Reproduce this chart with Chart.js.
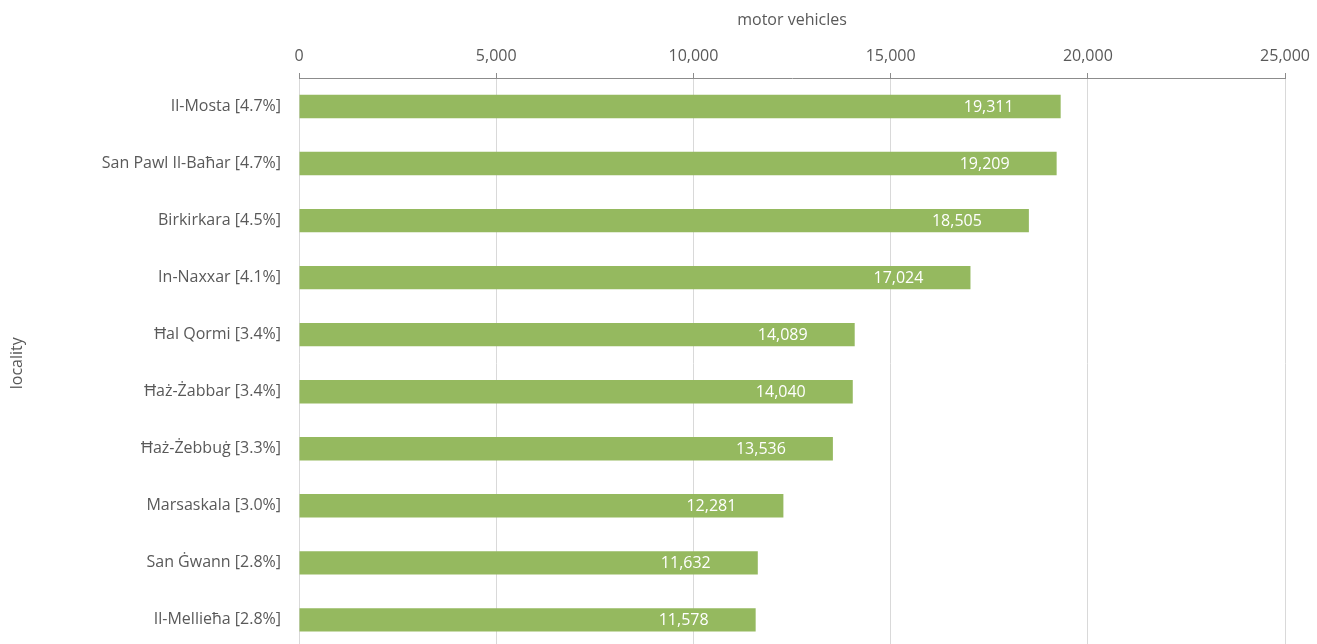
<!DOCTYPE html>
<html lang="en">
<head>
    <meta charset="UTF-8">
    <title>Motor vehicles by locality</title>
    <script src="https://cdn.jsdelivr.net/npm/chart.js"></script>
    <style>
        html, body { margin: 0; padding: 0; overflow: hidden; background: #fff; }
        canvas { display: block; }
    </style>
</head>
<body>
    <!-- taller than the window: the plot runs past the bottom edge like the original -->
    <canvas id="chart" width="1317" height="676"></canvas>

    <script>
        // data
        var localities = ['Il-Mosta [4.7%]', 'San Pawl Il-Baħar [4.7%]', 'Birkirkara [4.5%]', 'In-Naxxar [4.1%]',
            'Ħal Qormi [3.4%]', 'Ħaż-Żabbar [3.4%]', 'Ħaż-Żebbuġ [3.3%]', 'Marsaskala [3.0%]',
            'San Ġwann [2.8%]', 'Il-Mellieħa [2.8%]'];
        var vehicles = [19311, 19209, 18505, 17024, 14089, 14040, 13536, 12281, 11632, 11578];
        var xTicks = [0, 5000, 10000, 15000, 20000, 25000];

        var FONT = "'Open Sans', sans-serif";
        var GREY = '#595959';

        // white value labels near the end of each bar
        var valueLabels = {
            id: 'valueLabels',
            afterDatasetsDraw: function(chart) {
                var ctx = chart.ctx;
                var meta = chart.getDatasetMeta(0);
                ctx.save();
                ctx.fillStyle = '#ffffff';
                ctx.font = '16px ' + FONT;
                ctx.textAlign = 'center';
                ctx.textBaseline = 'middle';
                meta.data.forEach(function(bar, i) {
                    ctx.fillText(vehicles[i].toLocaleString('en-US'), bar.x - 72, bar.y + 1);
                });
                ctx.restore();
            }
        };

        var chart = new Chart(document.getElementById('chart'), {
            type: 'bar',
            data: {
                labels: localities,
                datasets: [{
                    data: vehicles,
                    backgroundColor: '#95b95f',
                    barPercentage: 0.41,
                    categoryPercentage: 1
                }]
            },
            options: {
                indexAxis: 'y',
                responsive: false,
                animation: false,
                layout: { padding: { left: 0, right: 29, top: 0, bottom: 0 } },
                plugins: {
                    legend: { display: false },
                    tooltip: { enabled: false }
                },
                scales: {
                    x: {
                        position: 'top',
                        min: 0,
                        max: 25000,
                        afterBuildTicks: function(scale) {
                            scale.ticks = xTicks.map(function(v) { return { value: v }; });
                        },
                        afterFit: function(scale) { scale.height = 78; },
                        ticks: {
                            color: GREY,
                            font: { family: FONT, size: 16 },
                            padding: 7,
                            callback: function(v) { return v.toLocaleString('en-US'); }
                        },
                        grid: { color: '#d9d9d9', tickColor: '#8c8c8c', tickLength: 5 },
                        border: { color: '#8c8c8c', width: 1 },
                        title: {
                            display: true,
                            text: 'motor vehicles',
                            color: GREY,
                            font: { family: FONT, size: 16 },
                            padding: { top: 11, bottom: 0 }
                        }
                    },
                    y: {
                        afterFit: function(scale) { scale.width = 299; },
                        ticks: {
                            color: GREY,
                            font: { family: FONT, size: 16 },
                            padding: 18
                        },
                        grid: { display: false, drawTicks: false },
                        border: { display: false },
                        title: {
                            display: true,
                            text: 'locality',
                            color: GREY,
                            font: { family: FONT, size: 16 },
                            padding: { top: 8, bottom: 0 }
                        }
                    }
                }
            },
            plugins: [valueLabels]
        });
    </script>
</body>
</html>
